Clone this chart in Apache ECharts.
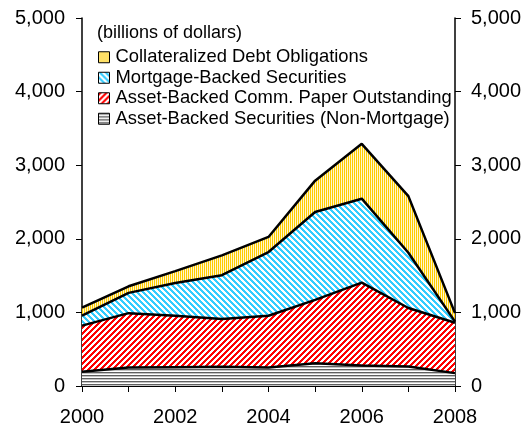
<!DOCTYPE html>
<html>
<head>
<meta charset="utf-8">
<script src="https://cdn.jsdelivr.net/npm/echarts@6/dist/echarts.min.js"></script>
<style>
  html, body { margin: 0; padding: 0; background: #fff; }
  #chartcontainer { width: 528px; height: 427px; }
</style>
</head>
<body>
<div id="chartcontainer"></div>
<script>
  // billions of dollars
  const years = ['2000', '2001', '2002', '2003', '2004', '2005', '2006', '2007', '2008']
  const absNonMortgage = [195, 250, 255, 260, 250, 310, 280, 265, 175]
  const abcpOutstanding = [625, 740, 700, 650, 705, 860, 1125, 795, 685]
  const mortgageBacked = [135, 275, 445, 595, 865, 1195, 1140, 750, 15]
  const cdoValues = [110, 90, 160, 270, 205, 425, 745, 770, 115]
  const yTicks = [0, 1000, 2000, 3000, 4000, 5000]

  const names = {
    cdo: 'Collateralized Debt Obligations',
    mbs: 'Mortgage-Backed Securities',
    abcp: 'Asset-Backed Comm. Paper Outstanding',
    abs: 'Asset-Backed Securities (Non-Mortgage)'
  }

  // small tiled canvases for the hatched fills
  function stripes (w, h, pick) {
    const c = document.createElement('canvas')
    c.width = w
    c.height = h
    const ctx = c.getContext('2d')
    const img = ctx.createImageData(w, h)
    for (let y = 0; y < h; y++) {
      for (let x = 0; x < w; x++) {
        const col = pick(x, y)
        const i = (y * w + x) * 4
        img.data[i] = col[0]
        img.data[i + 1] = col[1]
        img.data[i + 2] = col[2]
        img.data[i + 3] = 255
      }
    }
    ctx.putImageData(img, 0, 0)
    return { image: c, repeat: 'repeat' }
  }

  const white = [255, 255, 255]
  const yellowFill = stripes(2, 1, x => x < 1 ? [255, 204, 0] : [255, 246, 205])
  const cyanFill = stripes(6, 6, (x, y) => ((x - y + 12) % 6) < 3 ? [51, 204, 255] : white)
  const redFill = stripes(6, 6, (x, y) => ((x + y) % 6) < 3 ? [255, 0, 0] : white)
  const grayFill = stripes(1, 3, (x, y) => [[95, 95, 95], [195, 195, 195], white][y])

  function areaSeries (name, values, fill) {
    return {
      name: name,
      type: 'line',
      stack: 'total',
      data: values,
      symbol: 'none',
      itemStyle: { color: fill, borderColor: '#000', borderWidth: 1 },
      lineStyle: { color: '#000', width: 2.5 },
      areaStyle: { color: fill, opacity: 1 }
    }
  }

  const axisFont = { fontFamily: 'Liberation Sans', fontSize: 20, color: '#000' }

  const chart = echarts.init(document.getElementById('chartcontainer'))
  chart.setOption({
    animation: false,
    title: {
      text: '(billions of dollars)',
      left: 97,
      top: 23,
      padding: 0,
      textStyle: { fontFamily: 'Liberation Sans', fontSize: 18, fontWeight: 'normal', color: '#000', lineHeight: 20 }
    },
    legend: {
      orient: 'vertical',
      left: 98,
      top: 47,
      padding: 0,
      itemGap: 0,
      itemWidth: 11,
      itemHeight: 11,
      icon: 'rect',
      data: [names.cdo, names.mbs, names.abcp, names.abs],
      itemStyle: { borderColor: '#000', borderWidth: 1 },
      textStyle: { fontFamily: 'Liberation Sans', fontSize: 18.4, color: '#000', lineHeight: 20.5, padding: [0, 0, 0, 1] }
    },
    grid: {
      left: 82,
      right: 73,
      top: 18,
      bottom: 41,
      containLabel: false
    },
    xAxis: [
      {
        type: 'category',
        boundaryGap: false,
        data: years,
        axisLine: { lineStyle: { color: '#000', width: 1.5 } },
        axisTick: { show: true, inside: false, length: 6, interval: 0, lineStyle: { color: '#000' } },
        axisLabel: Object.assign({ interval: 1, margin: 21 }, axisFont),
        splitLine: { show: false }
      },
      {
        type: 'category',
        boundaryGap: false,
        position: 'top',
        data: years,
        axisLine: { lineStyle: { color: '#000', width: 1 } },
        axisTick: { show: false },
        axisLabel: { show: false }
      }
    ],
    yAxis: [
      {
        type: 'value',
        min: yTicks[0],
        max: yTicks[yTicks.length - 1],
        interval: 1000,
        axisLine: { show: true, lineStyle: { color: '#000', width: 1.5 } },
        axisTick: { show: true, length: 6, lineStyle: { color: '#000' } },
        axisLabel: Object.assign({ margin: 17 }, axisFont),
        splitLine: { show: false }
      },
      {
        type: 'value',
        position: 'right',
        min: yTicks[0],
        max: yTicks[yTicks.length - 1],
        interval: 1000,
        axisLine: { show: true, lineStyle: { color: '#000', width: 1.5 } },
        axisTick: { show: true, length: 6, lineStyle: { color: '#000' } },
        axisLabel: Object.assign({ margin: 16 }, axisFont),
        splitLine: { show: false }
      }
    ],
    series: [
      areaSeries(names.abs, absNonMortgage, grayFill),
      areaSeries(names.abcp, abcpOutstanding, redFill),
      areaSeries(names.mbs, mortgageBacked, cyanFill),
      areaSeries(names.cdo, cdoValues, yellowFill)
    ]
  })
</script>
</body>
</html>
